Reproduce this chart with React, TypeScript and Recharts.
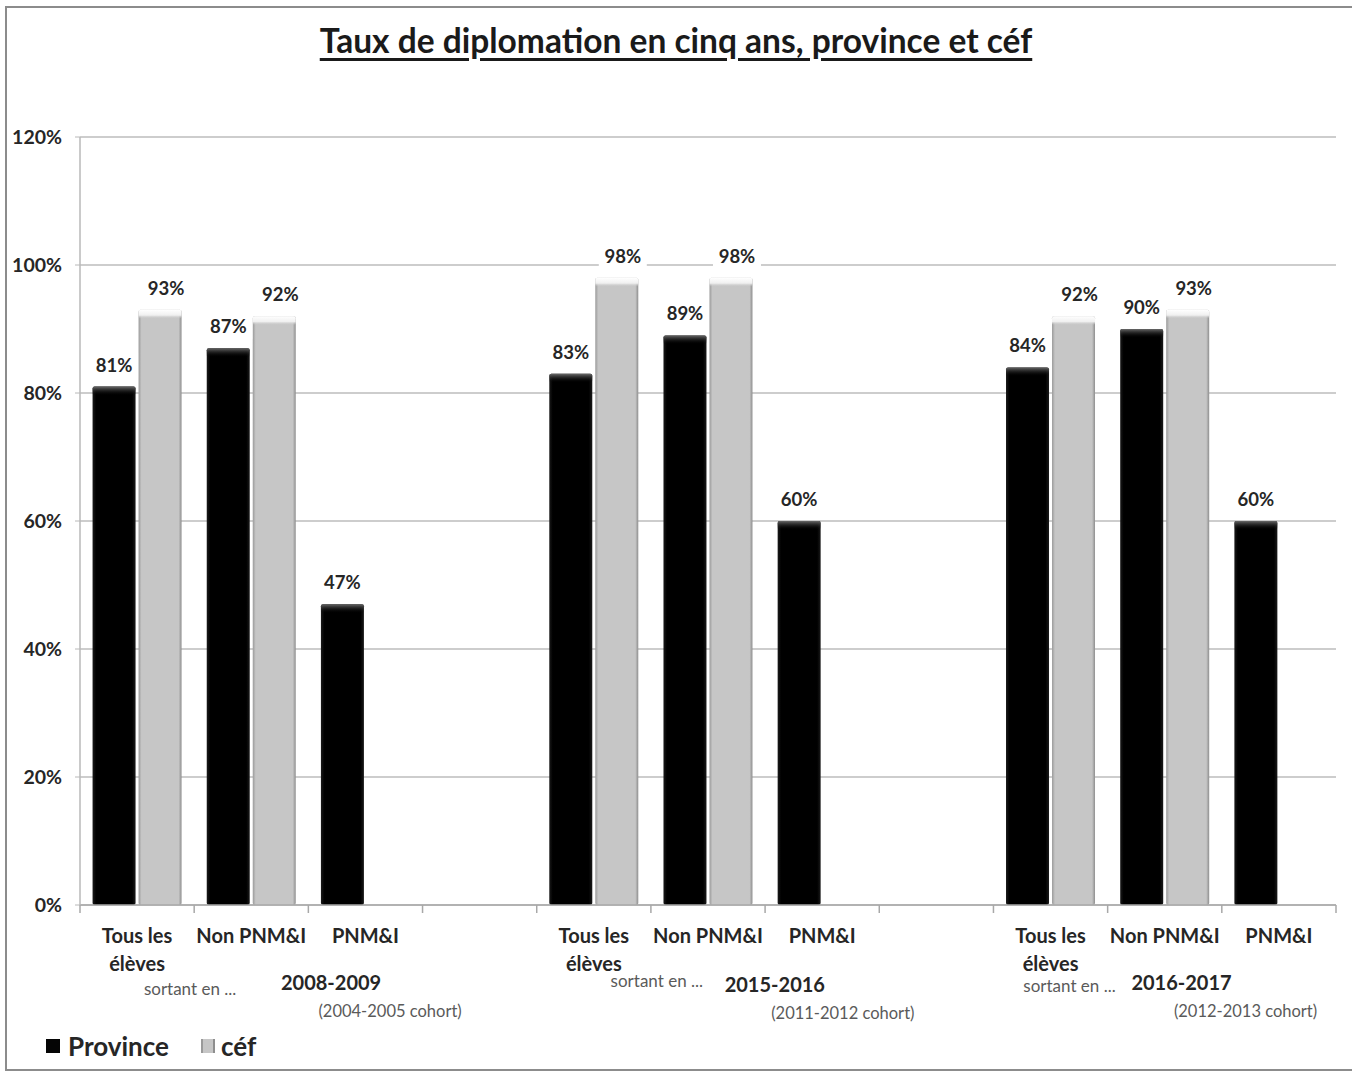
import { BarChart, Bar, XAxis, YAxis, CartesianGrid, LabelList } from 'recharts';

// one slot per bar group; the empty slots separate the three school years
const categories = [
  'Tous les élèves', 'Non PNM&I', 'PNM&I', '',
  'Tous les élèves', 'Non PNM&I', 'PNM&I', '',
  'Tous les élèves', 'Non PNM&I', 'PNM&I',
];
const province = [81, 87, 47, null, 83, 89, 60, null, 84, 90, 60];
const cef = [93, 92, null, null, 98, 98, null, null, 92, 93, null];
const years = ['2008-2009', '2015-2016', '2016-2017'];
const cohorts = ['(2004-2005 cohort)', '(2011-2012 cohort)', '(2012-2013 cohort)'];
const yTicks = [0, 20, 40, 60, 80, 100, 120];

const data = categories.map((name, i) => ({
  slot: i,
  name,
  province: province[i],
  cef: cef[i],
}));

const W = 1352;
const H = 1071;
const PLOT_LEFT = 80;
const PLOT_RIGHT = 1336;
const PLOT_TOP = 137;
const PLOT_BOTTOM = 905;
const X_AXIS_H = 60;
const BAND = (PLOT_RIGHT - PLOT_LEFT) / categories.length;
const FONT = 'Lato, "Open Sans", sans-serif';

// where the "sortant en ...", year and cohort lines sit, relative to the group's first slot
const groupLabelLayout = [
  { sortant: [53, 995], year: [194, 990], cohort: [253, 1017] },
  { sortant: [63, 987], year: [181, 992], cohort: [249, 1019] },
  { sortant: [19, 992], year: [131, 990], cohort: [195, 1017] },
];

function CategoryTick(props: any) {
  const { x, payload } = props;
  const i = Number(payload.value);
  const label = categories[i];
  const half = BAND / 2;
  const lines = label === 'Tous les élèves' ? ['Tous les', 'élèves'] : label ? [label] : [];
  const group = Math.floor(i / 4);
  const lay = i % 4 === 0 ? groupLabelLayout[group] : null;
  return (
    <g>
      <line x1={x - half} x2={x - half} y1={PLOT_BOTTOM} y2={PLOT_BOTTOM + 8} stroke="#a8a8a8" strokeWidth={1.5} />
      {i === categories.length - 1 && (
        <line x1={x + half} x2={x + half} y1={PLOT_BOTTOM} y2={PLOT_BOTTOM + 8} stroke="#a8a8a8" strokeWidth={1.5} />
      )}
      {lines.map((t, k) => (
        <text key={k} x={x} y={PLOT_BOTTOM + 38 + k * 28} textAnchor="middle"
          fontFamily={FONT} fontWeight={700} fontSize={20} fill="#262626">
          {t}
        </text>
      ))}
      {lay && (
        <g fontFamily={FONT}>
          <text x={x + lay.sortant[0]} y={lay.sortant[1]} textAnchor="middle" fontSize={17} fill="#5a5a5a">
            sortant en ...
          </text>
          <text x={x + lay.year[0]} y={lay.year[1]} textAnchor="middle" fontSize={20} fontWeight={700} fill="#262626">
            {years[group]}
          </text>
          <text x={x + lay.cohort[0]} y={lay.cohort[1]} textAnchor="middle" fontSize={16.5} fill="#5a5a5a">
            {cohorts[group]}
          </text>
        </g>
      )}
    </g>
  );
}

function BevelBar(props: any) {
  const { x, y, width, height, tone, index } = props;
  if (!height || height <= 0) return null;
  const dark = tone === 'dark';
  const id = `${tone}-${index}`;
  const bevel = Math.min(9, height);
  return (
    <g>
      <defs>
        <linearGradient id={`side-${id}`} x1="0" y1="0" x2="1" y2="0">
          {dark ? (
            <>
              <stop offset="0" stopColor="#1a1a1a" />
              <stop offset="0.08" stopColor="#000" />
              <stop offset="0.92" stopColor="#000" />
              <stop offset="1" stopColor="#1a1a1a" />
            </>
          ) : (
            <>
              <stop offset="0" stopColor="#9a9a9a" />
              <stop offset="0.07" stopColor="#c6c6c6" />
              <stop offset="0.93" stopColor="#c6c6c6" />
              <stop offset="1" stopColor="#8e8e8e" />
            </>
          )}
        </linearGradient>
        <linearGradient id={`top-${id}`} x1="0" y1="0" x2="0" y2="1">
          {dark ? (
            <>
              <stop offset="0" stopColor="#6a6a6a" />
              <stop offset="1" stopColor="#000" stopOpacity={0} />
            </>
          ) : (
            <>
              <stop offset="0" stopColor="#ffffff" />
              <stop offset="0.6" stopColor="#f0f0f0" />
              <stop offset="1" stopColor="#c6c6c6" stopOpacity={0} />
            </>
          )}
        </linearGradient>
      </defs>
      <rect x={x} y={y} width={width} height={height} rx={2} fill={`url(#side-${id})`} />
      <rect x={x} y={y} width={width} height={bevel} rx={2} fill={`url(#top-${id})`} />
    </g>
  );
}

function ValueLabel(props: any) {
  const { x, y, width, value, shift = 0 } = props;
  if (value == null) return null;
  const cx = x + width / 2 + shift;
  return (
    <g>
      <rect x={cx - 24} y={y - 34} width={48} height={25} fill="#fff" />
      <text x={cx} y={y - 15} textAnchor="middle" fontFamily={FONT} fontWeight={700} fontSize={18.5} fill="#262626">
        {`${value}%`}
      </text>
    </g>
  );
}

function LegendBox() {
  return (
    <div style={{ position: 'absolute', left: 46, top: 1030, display: 'flex', alignItems: 'center', fontFamily: FONT, fontWeight: 700, fontSize: 26, color: '#262626' }}>
      <span style={{ width: 14, height: 14, background: '#050505', marginRight: 8 }} />
      <span style={{ marginRight: 32 }}>Province</span>
      <span style={{ width: 14, height: 14, background: '#c6c6c6', borderLeft: '2px solid #9a9a9a', borderRight: '2px solid #8e8e8e', boxSizing: 'border-box', marginRight: 6 }} />
      <span>céf</span>
    </div>
  );
}

export default function App() {
  return (
    <div style={{ position: 'relative', width: W, height: H, background: '#fff', overflow: 'hidden' }}>
      <style>{'body{margin:0}'}</style>
      <div style={{ position: 'absolute', left: 5, top: 6, width: W + 10, height: 1061, borderLeft: '2px solid #8c8c8c', borderTop: '2px solid #8c8c8c', borderBottom: '2px solid #8c8c8c' }} />
      <div style={{ position: 'absolute', left: 0, width: W, top: 20, textAlign: 'center', fontFamily: FONT, fontWeight: 700, fontSize: 33.5, color: '#1a1a1a', textDecoration: 'underline', textUnderlineOffset: 5 }}>
        Taux de diplomation en cinq ans, province et céf
      </div>
      <BarChart
        width={W}
        height={H}
        data={data}
        margin={{ top: PLOT_TOP, right: W - PLOT_RIGHT, bottom: H - PLOT_BOTTOM - X_AXIS_H, left: 0 }}
        barCategoryGap="11%"
        barGap={3}
        style={{ position: 'absolute', left: 0, top: 0 }}
      >
        <CartesianGrid vertical={false} stroke="#bdbdbd" strokeWidth={1.5} />
        <XAxis
          dataKey="slot"
          type="category"
          height={X_AXIS_H}
          interval={0}
          tickLine={false}
          tickSize={0}
          axisLine={{ stroke: '#a8a8a8', strokeWidth: 1.5 }}
          tick={<CategoryTick />}
        />
        <YAxis
          width={PLOT_LEFT}
          domain={[0, 120]}
          ticks={yTicks}
          interval={0}
          tickSize={5}
          tickMargin={13}
          tickLine={{ stroke: '#b8b8b8' }}
          axisLine={{ stroke: '#b8b8b8', strokeWidth: 1.5 }}
          tickFormatter={(v) => `${v}%`}
          tick={{ fontFamily: FONT, fontWeight: 700, fontSize: 19.5, fill: '#262626' }}
        />
        <Bar dataKey="province" name="Province" fill="#050505" isAnimationActive={false}
          shape={(p: any) => <BevelBar {...p} tone="dark" />}>
          <LabelList dataKey="province" content={<ValueLabel />} />
        </Bar>
        <Bar dataKey="cef" name="céf" fill="#c6c6c6" isAnimationActive={false}
          shape={(p: any) => <BevelBar {...p} tone="light" />}>
          <LabelList dataKey="cef" content={<ValueLabel shift={6} />} />
        </Bar>
      </BarChart>
      <LegendBox />
    </div>
  );
}
